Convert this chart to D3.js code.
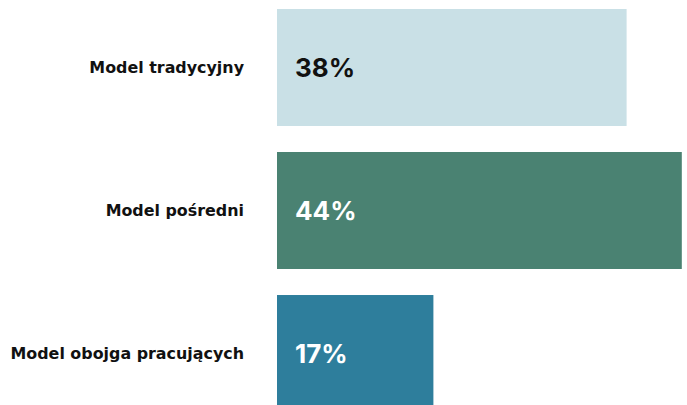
<!DOCTYPE html>
<html>
<head>
<meta charset="utf-8">
<script src="https://cdn.jsdelivr.net/npm/d3@7"></script>
<style>
  html, body { margin: 0; padding: 0; background: #fff; }
  svg { display: block; font-family: Inter, "Noto Sans", sans-serif; }
</style>
</head>
<body>
<div id="chart"></div>
<script>
// chart data
const categories = ['Model tradycyjny', 'Model pośredni', 'Model obojga pracujących']
const values = [38, 44, 17]
const barColors = ['#c9e0e6', '#4a8272', '#2e7e9c']
const valueColors = ['#111', '#fff', '#fff']

const width = 687
const height = 405

const svg = d3.select('#chart')
  .append('svg')
  .attr('width', width)
  .attr('height', height)

const x = d3.scaleLinear().domain([0, 100]).range([277, 1197])
const y = d3.scaleBand()
  .domain(categories)
  .range([9, 412])
  .paddingInner(0.182)
  .paddingOuter(0)

const rows = svg.selectAll('g.row')
  .data(categories)
  .join('g')
  .attr('class', 'row')

rows.append('rect')
  .attr('x', x(0))
  .attr('y', d => y(d))
  .attr('width', (d, i) => x(values[i]) - x(0))
  .attr('height', y.bandwidth())
  .attr('fill', (d, i) => barColors[i])

// category labels on the left
rows.append('text')
  .attr('x', 244)
  .attr('y', d => y(d) + y.bandwidth() / 2)
  .attr('dy', '0.35em')
  .attr('text-anchor', 'end')
  .attr('font-family', '"DejaVu Sans", sans-serif')
  .attr('font-size', 15.9)
  .attr('font-weight', 700)
  .attr('fill', '#111')
  .text(d => d)

// value labels inside bars
rows.append('text')
  .attr('x', x(0) + 18)
  .attr('y', d => y(d) + y.bandwidth() / 2)
  .attr('dy', '0.36em')
  .attr('font-size', 26)
  .attr('font-weight', 700)
  .attr('fill', (d, i) => valueColors[i])
  .text((d, i) => values[i] + '%')
</script>
</body>
</html>
